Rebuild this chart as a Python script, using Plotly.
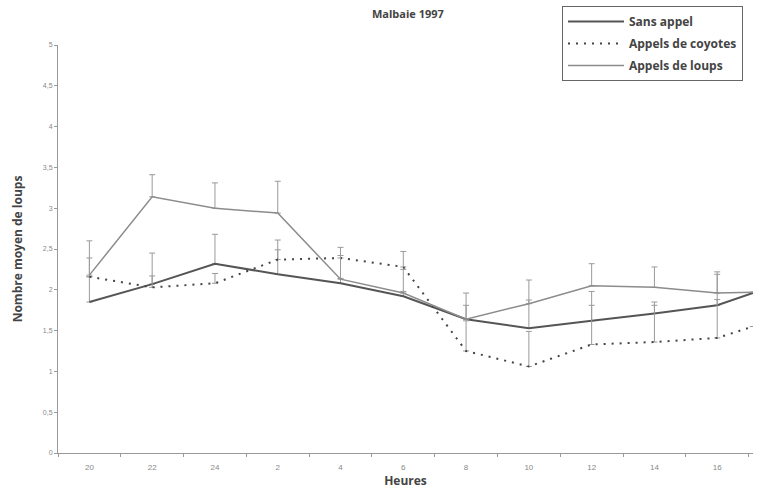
import plotly.graph_objects as go

hours = ["20", "22", "24", "2", "4", "6", "8", "10", "12", "14", "16"]
x_pos = [0, 1, 2, 3, 4, 5, 6, 7, 8, 9, 10, 10.57]

sans_appel = [1.85, 2.07, 2.32, 2.19, 2.08, 1.92, 1.64, 1.53, 1.62, 1.71, 1.81, 1.96]
sans_err = [0.31, 0.38, 0.36, 0.30, 0.06, 0.06, 0.17, 0.345, 0.36, 0.14, 0.07, None]

coyotes = [2.16, 2.03, 2.08, 2.37, 2.39, 2.28, 1.25, 1.06, 1.33, 1.36, 1.41, 1.55]
coyotes_err = [0.23, 0.14, 0.12, 0.24, 0.13, 0.19, 0.37, 0.43, 0.48, 0.45, 0.81, None]

loups = [2.18, 3.14, 3.00, 2.94, 2.13, 1.96, 1.64, 1.83, 2.05, 2.03, 1.96, 1.97]
loups_err = [0.42, 0.27, 0.31, 0.39, 0.29, 0.29, 0.32, 0.29, 0.27, 0.25, 0.23, None]

y_ticks = [0, 0.5, 1, 1.5, 2, 2.5, 3, 3.5, 4, 4.5, 5]
y_tick_text = ["0", "0,5", "1", "1,5", "2", "2,5", "3", "3,5", "4", "4,5", "5"]

FONT = "Open Sans"
ERR_COLOR = "#9a9a9a"


def err(vals):
    return dict(type="data", symmetric=False, array=vals,
                arrayminus=[0 if v is not None else None for v in vals],
                color=ERR_COLOR, thickness=1, width=3)


fig = go.Figure()
fig.add_trace(go.Scatter(x=x_pos, y=sans_appel, mode="lines", name="Sans appel",
                         line=dict(color="#555555", width=2), error_y=err(sans_err),
                         legendgroup="a"))
fig.add_trace(go.Scatter(x=x_pos, y=coyotes, mode="lines", name="Appels de coyotes",
                         line=dict(color="#444444", width=2, dash="2px,6px"),
                         error_y=err(coyotes_err), legendgroup="b"))
fig.add_trace(go.Scatter(x=x_pos, y=loups, mode="lines", name="Appels de loups",
                         line=dict(color="#8c8c8c", width=1.5), error_y=err(loups_err),
                         legendgroup="c"))

fig.update_layout(
    width=769, height=493,
    margin=dict(l=58, r=16, t=45, b=40, autoexpand=False),
    paper_bgcolor="white", plot_bgcolor="white",
    font=dict(family=FONT, color="#444444"),
    showlegend=True,
    legend=dict(x=(562 - 58) / 695, y=(453 - 6) / 408, xanchor="left", yanchor="top",
                bordercolor="#666666", borderwidth=1, bgcolor="white",
                font=dict(family=FONT, size=12, color="#444444", weight="bold"),
                tracegroupgap=3, itemwidth=56),
    xaxis=dict(range=[-0.5, 10.57], tickmode="array", tickvals=list(range(11)),
               ticktext=hours, ticks="", showgrid=False, zeroline=False, automargin=False,
               showline=True, linecolor="#999999", linewidth=1, ticklabelstandoff=6,
               tickfont=dict(family="Liberation Sans", size=8, color="#888888"),
               minor=dict(tick0=0.5, dtick=1, ticks="outside", ticklen=3,
                          tickcolor="#999999", showgrid=False),
               title=dict(text="Heures", font=dict(family=FONT, size=12, weight="bold",
                                                     color="#444444"), standoff=6)),
    yaxis=dict(range=[0, 5], tickmode="array", tickvals=y_ticks, ticktext=y_tick_text,
               ticks="outside", ticklen=3, tickcolor="#999999", showgrid=False,
               zeroline=False, showline=True, linecolor="#999999", linewidth=1,
               automargin=False,
               tickfont=dict(family="Liberation Sans", size=7, color="#888888"),
               title=dict(text="Nombre moyen de loups",
                          font=dict(family=FONT, size=12, weight="bold", color="#444444"),
                          standoff=17)),
    annotations=[dict(text="Malbaie 1997", xref="paper", yref="paper",
                      x=(408 - 58) / 695, y=(453 - 13) / 408, xanchor="center",
                      yanchor="middle", showarrow=False,
                      font=dict(family=FONT, size=11, weight="bold", color="#444444"))],
)

fig.write_html("out.html")
